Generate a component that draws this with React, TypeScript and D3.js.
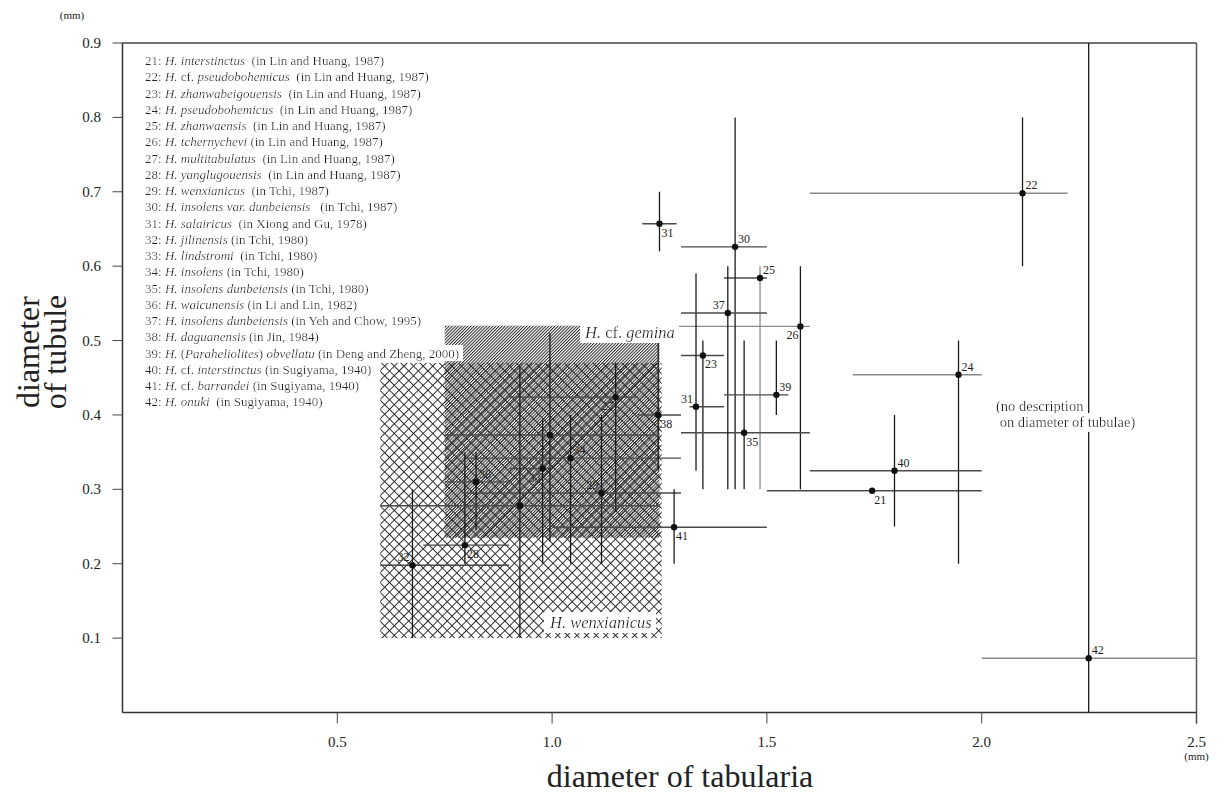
import React from 'react';
import * as d3 from 'd3';

// ---------- data ----------
const pointLabels = ['21','22','23','24','25','26','27','28','29','30','31','31','32','33','34','35','36','37','38','39','40','41','42','',''];
const pointX = [1.745,2.095,1.351,1.946,1.484,1.578,1.148,0.797,1.115,1.426,1.250,1.335,0.675,0.978,1.043,1.447,0.823,1.409,1.247,1.522,1.797,1.284,2.249,0.995,0.925];
const pointY = [0.298,0.698,0.480,0.454,0.584,0.519,0.424,0.225,0.295,0.626,0.657,0.411,0.198,0.328,0.342,0.376,0.310,0.537,0.400,0.427,0.325,0.249,0.073,0.373,0.278];
const xLow = [1.5,1.6,1.3,1.7,1.4,1.2,0.9,0.7,0.8,1.3,1.21,1.32,0.6,0.9,0.8,1.3,0.75,1.3,1.2,1.4,1.6,1.0,2.0,0.75,0.6];
const xHigh = [2.0,2.2,1.4,2.0,1.5,1.6,1.2,0.9,1.3,1.5,1.29,1.4,0.9,1.0,1.3,1.6,0.9,1.5,1.3,1.55,2.0,1.5,2.5,1.25,1.25];
const yLow: (number | null)[] = [null,0.6,0.3,0.2,0.3,0.3,0.27,0.2,0.2,0.3,0.62,0.325,0.1,0.2,0.2,0.3,0.245,0.3,0.325,0.4,0.25,0.2,0,0.23,0.1];
const yHigh: (number | null)[] = [null,0.8,0.5,0.5,0.6,0.6,0.47,0.35,0.4,0.8,0.70,0.59,0.3,0.395,0.4,0.5,0.35,0.6,0.5,0.5,0.4,0.3,0.9,0.51,0.465];
const labelPlace = ['se','ne','se','ne','ne','sw','sw','se','nw','ne','se','nw','nw','sw','ne','se','ne','nw','se','ne','ne','se','ne','',''];
const greyHorizontal = ['22','26','24','42'];
const greyVertical = ['25'];

const xTicks = [0.5, 1.0, 1.5, 2.0, 2.5];
const xTickLabels = ['0.5', '1.0', '1.5', '2.0', '2.5'];
const yTicks = [0.1, 0.2, 0.3, 0.4, 0.5, 0.6, 0.7, 0.8, 0.9];
const yTickLabels = ['0.1', '0.2', '0.3', '0.4', '0.5', '0.6', '0.7', '0.8', '0.9'];

// regions: [x0, x1, y0, y1]
const geminaRegion = [0.75, 1.25, 0.235, 0.52];
const wenxianicusRegion = [0.6, 1.255, 0.1, 0.47];

// legend: segments [text, italic]
type Seg = [string, boolean];
const legendEntries: Seg[][] = [
  [['21: ', false], ['H. interstinctus', true], ['  (in Lin and Huang, 1987)', false]],
  [['22: ', false], ['H.', true], [' cf. ', false], ['pseudobohemicus', true], ['  (in Lin and Huang, 1987)', false]],
  [['23: ', false], ['H. zhanwabeigouensis', true], ['  (in Lin and Huang, 1987)', false]],
  [['24: ', false], ['H. pseudobohemicus', true], ['  (in Lin and Huang, 1987)', false]],
  [['25: ', false], ['H. zhanwaensis', true], ['  (in Lin and Huang, 1987)', false]],
  [['26: ', false], ['H. tchernychevi', true], [' (in Lin and Huang, 1987)', false]],
  [['27: ', false], ['H. multitabulatus', true], ['  (in Lin and Huang, 1987)', false]],
  [['28: ', false], ['H. yanglugouensis', true], ['  (in Lin and Huang, 1987)', false]],
  [['29: ', false], ['H. wenxianicus', true], ['  (in Tchi, 1987)', false]],
  [['30: ', false], ['H. insolens var. dunbeiensis', true], ['   (in Tchi, 1987)', false]],
  [['31: ', false], ['H. salairicus', true], ['  (in Xiong and Gu, 1978)', false]],
  [['32: ', false], ['H. jilinensis', true], [' (in Tchi, 1980)', false]],
  [['33: ', false], ['H. lindstromi', true], ['  (in Tchi, 1980)', false]],
  [['34: ', false], ['H. insolens', true], [' (in Tchi, 1980)', false]],
  [['35: ', false], ['H. insolens dunbeiensis', true], [' (in Tchi, 1980)', false]],
  [['36: ', false], ['H. waicunensis', true], [' (in Li and Lin, 1982)', false]],
  [['37: ', false], ['H. insolens dunbeiensis', true], [' (in Yeh and Chow, 1995)', false]],
  [['38: ', false], ['H. daguanensis', true], [' (in Jin, 1984)', false]],
  [['39: ', false], ['H.', true], [' (', false], ['Paraheliolites', true], [') ', false], ['obvellatu', true], [' (in Deng and Zheng, 2000)', false]],
  [['40: ', false], ['H.', true], [' cf. ', false], ['interstinctus', true], [' (in Sugiyama, 1940)', false]],
  [['41: ', false], ['H.', true], [' cf. ', false], ['barrandei', true], [' (in Sugiyama, 1940)', false]],
  [['42: ', false], ['H. onuki', true], ['  (in Sugiyama, 1940)', false]],
];
const geminaLabel: Seg[] = [['H.', true], [' cf. ', false], ['gemina', true]];
const wenxianicusLabel: Seg[] = [['H. wenxianicus', true]];
const noteLines = ['(no description', ' on diameter of tubulae)'];

// ---------- layout ----------
const W = 1224, H = 798;
const plot = { left: 122.5, right: 1196.5, top: 43, bottom: 712.5 };
const FONT = '"Liberation Serif", "Times New Roman", Times, serif';

export default function App() {
  const x = d3.scaleLinear().domain([0, 2.5]).range([plot.left, plot.right]);
  const y = d3.scaleLinear().domain([0, 0.9]).range([plot.bottom, plot.top]);

  const rect = (r: number[]) => ({
    x: x(r[0]), y: y(r[3]), width: x(r[1]) - x(r[0]), height: y(r[2]) - y(r[3]),
  });

  const dark = '#1a1a1a';
  const hCol = '#4a4a4a';
  const grey = '#8a8a8a';

  const renderSegs = (segs: Seg[]) =>
    segs.map((s, i) => (
      <tspan key={i} fontStyle={s[1] ? 'italic' : 'normal'}>{s[0]}</tspan>
    ));

  const labelAttrs = (i: number) => {
    const px = x(pointX[i]);
    const py = y(pointY[i]);
    const p = labelPlace[i];
    if (p === 'ne') return { x: px + 3, y: py - 4, anchor: 'start' };
    if (p === 'se') return { x: px + 2, y: py + 13, anchor: 'start' };
    if (p === 'nw') return { x: px - 3, y: py - 4, anchor: 'end' };
    return { x: px - 2, y: py + 13, anchor: 'end' };
  };

  return (
    <svg width={W} height={H} style={{ position: 'absolute', left: 0, top: 0, background: '#fff' }} fontFamily={FONT}>
      <defs>
        <pattern id="fineHatch" patternUnits="userSpaceOnUse" width="2.2" height="2.2" patternTransform="rotate(45)">
          <line x1="0.5" y1="-1" x2="0.5" y2="4" stroke="#2a2a2a" strokeWidth="1.0" />
        </pattern>
        <pattern id="crossHatch" patternUnits="userSpaceOnUse" width="6.8" height="6.8" patternTransform="rotate(45)">
          <line x1="0.5" y1="-1" x2="0.5" y2="8" stroke="#2a2a2a" strokeWidth="0.95" />
          <line x1="-1" y1="0.5" x2="8" y2="0.5" stroke="#2a2a2a" strokeWidth="0.95" />
        </pattern>
        <filter id="wbg" x="-0.01" y="0" width="1.02" height="1">
          <feFlood floodColor="#ffffff" />
          <feComposite in="SourceGraphic" operator="over" />
        </filter>
        <filter id="wbg2" x="-0.04" y="-0.05" width="1.08" height="1.1">
          <feFlood floodColor="#ffffff" />
          <feComposite in="SourceGraphic" operator="over" />
        </filter>
      </defs>

      {/* point labels (below hatching) */}
      {pointLabels.map((lab, i) => {
        if (!lab) return null;
        const a = labelAttrs(i);
        return (
          <text key={'pl' + i} x={a.x} y={a.y} fontSize={12} textAnchor={a.anchor} fill="#222">{lab}</text>
        );
      })}

      {/* regions */}
      <rect {...rect(wenxianicusRegion)} fill="url(#crossHatch)" />
      <rect {...rect(geminaRegion)} fill="url(#fineHatch)" />

      {/* axes frame */}
      <line x1={plot.left} x2={plot.right} y1={plot.top} y2={plot.top} stroke="#444" strokeWidth={1.5} />
      <line x1={plot.right} x2={plot.right} y1={plot.top} y2={plot.bottom + 11} stroke="#555" strokeWidth={1.5} />
      <line x1={plot.left} x2={plot.left} y1={plot.top} y2={plot.bottom} stroke="#333" strokeWidth={1.5} />
      <line x1={plot.left} x2={plot.right} y1={plot.bottom} y2={plot.bottom} stroke="#333" strokeWidth={1.5} />

      {xTicks.map((t, i) => (
        <g key={'xt' + i}>
          <line x1={x(t)} x2={x(t)} y1={plot.bottom} y2={plot.bottom + 11} stroke="#444" strokeWidth={1} />
          <text x={x(t)} y={747} fontSize={15} textAnchor="middle" fill="#222">{xTickLabels[i]}</text>
        </g>
      ))}
      <text x={x(2.5)} y={760} fontSize={11} textAnchor="middle" fill="#222">(mm)</text>

      {yTicks.map((t, i) => (
        <g key={'yt' + i}>
          <line x1={plot.left - 10} x2={plot.left} y1={y(t)} y2={y(t)} stroke="#444" strokeWidth={1} />
          <text x={101} y={y(t) + 5} fontSize={15} textAnchor="end" fill="#222">{yTickLabels[i]}</text>
        </g>
      ))}
      <text x={72} y={19} fontSize={11} textAnchor="middle" fill="#222">(mm)</text>

      {/* axis titles */}
      <text x={680} y={787} fontSize={32} textAnchor="middle" fill="#222">diameter of tabularia</text>
      <g transform="translate(39,352) rotate(-90)">
        <text x={0} y={0} fontSize={32} textAnchor="middle" fill="#222">diameter</text>
        <text x={0} y={27} fontSize={32} textAnchor="middle" fill="#222">of tubule</text>
      </g>

      {/* error bars */}
      {pointLabels.map((lab, i) => (
        <g key={'eb' + i}>
          <line x1={x(xLow[i])} x2={x(xHigh[i])} y1={y(pointY[i])} y2={y(pointY[i])}
            stroke={greyHorizontal.includes(lab) ? grey : hCol} strokeWidth={1.4} />
          {yLow[i] !== null && yHigh[i] !== null && (
            <line x1={x(pointX[i])} x2={x(pointX[i])} y1={y(yLow[i] as number)} y2={y(yHigh[i] as number)}
              stroke={greyVertical.includes(lab) ? grey : dark} strokeWidth={1.3} />
          )}
        </g>
      ))}
      {pointLabels.map((lab, i) => (
        <circle key={'pt' + i} cx={x(pointX[i])} cy={y(pointY[i])} r={3.2} fill="#111" />
      ))}

      {/* region labels */}
      <text x={585} y={338} fontSize={16.5} fill="#222" filter="url(#wbg2)" style={{ whiteSpace: 'pre' }}>{renderSegs(geminaLabel)}</text>
      <text x={550} y={628} fontSize={16.5} fill="#222" filter="url(#wbg2)" style={{ whiteSpace: 'pre' }}>{renderSegs(wenxianicusLabel)}</text>

      {/* note */}
      {noteLines.map((t, i) => (
        <text key={'nt' + i} x={996} y={411 + i * 16} fontSize={14.5} fill="#222" filter="url(#wbg2)" style={{ whiteSpace: 'pre' }}>{t}</text>
      ))}

      {/* legend */}
      {legendEntries.map((segs, i) => (
        <text key={'lg' + i} x={145} y={65.2 + i * 16.24} fontSize={13} fill="#222" filter="url(#wbg)" style={{ whiteSpace: 'pre' }}>
          {renderSegs(segs)}
        </text>
      ))}
    </svg>
  );
}
